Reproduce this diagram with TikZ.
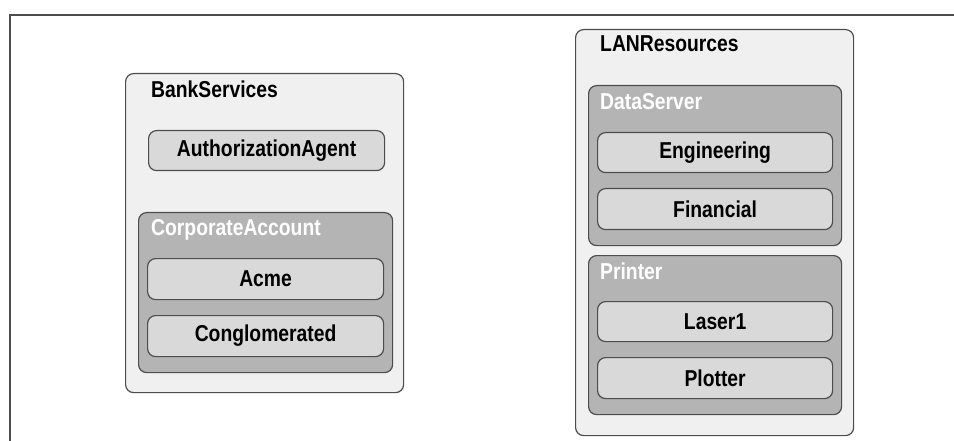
\documentclass[tikz,border=0pt]{standalone}
\usepackage{fontspec}
\setmainfont{Liberation Sans}[FakeStretch=0.84]
\usepackage{xcolor}
\usepackage{tikz}
\usetikzlibrary{positioning}

\definecolor{boxline}{HTML}{4D4D4D}
\definecolor{outerfill}{HTML}{F0F0F0}
\definecolor{groupfill}{HTML}{B4B4B4}
\definecolor{itemfill}{HTML}{D9D9D9}

\begin{document}
\begin{tikzpicture}[
	x=1pt, y=-1pt,
	font=\bfseries\fontsize{23}{26}\selectfont
]
\tikzset{
    outerbox/.style = {rectangle, draw=boxline, line width=1.2pt, rounded corners=8pt, anchor=north west, fill=outerfill, inner sep=0pt},
    groupbox/.style = {outerbox, fill=groupfill},
    itembox/.style = {outerbox, fill=itemfill, align=center},
    boxtitle/.style = {anchor=base west, inner sep=0pt},
    grouptitle/.style = {boxtitle, text=white}
}
\useasboundingbox (0,0) rectangle (954,441);
\coordinate (frametop) at (954,15);
\coordinate (framecorner) at (10,15);
\coordinate (framebottom) at (10,441);
\draw[boxline, line width=1.5pt] (frametop) -- (framecorner) -- (framebottom);

% left side
\node[outerbox, minimum width=278pt, minimum height=319pt] (bank) at (125,73) {};
\node[boxtitle] (banktitle) at (151,98) {BankServices};
\node[itembox, minimum width=236pt, minimum height=40pt] (auth) at (148,130) {AuthorizationAgent};
\node[groupbox, minimum width=254pt, minimum height=160pt] (corp) at (138,212) {};
\node[grouptitle] (corptitle) at (151,236) {CorporateAccount};
\node[itembox, minimum width=236pt, minimum height=41pt] (acme) at (147,258) {Acme};
\node[itembox, minimum width=236pt, minimum height=41pt] (cong) at (147,315) {Conglomerated};

% right side
\node[outerbox, minimum width=278pt, minimum height=406pt] (lan) at (575,29) {};
\node[boxtitle] (lantitle) at (600,52) {LANResources};
\node[groupbox, minimum width=253pt, minimum height=160pt] (data) at (588,85) {};
\node[grouptitle] (datatitle) at (600,110) {DataServer};
\node[itembox, minimum width=235pt, minimum height=40pt] (eng) at (597,132) {Engineering};
\node[itembox, minimum width=235pt, minimum height=41pt] (fin) at (597,188) {Financial};
\node[groupbox, minimum width=253pt, minimum height=159pt] (printer) at (588,255) {};
\node[grouptitle] (printertitle) at (600,279) {Printer};
\node[itembox, minimum width=235pt, minimum height=40pt] (laser) at (597,301) {Laser1};
\node[itembox, minimum width=235pt, minimum height=41pt] (plot) at (597,357) {Plotter};
\end{tikzpicture}
\end{document}
